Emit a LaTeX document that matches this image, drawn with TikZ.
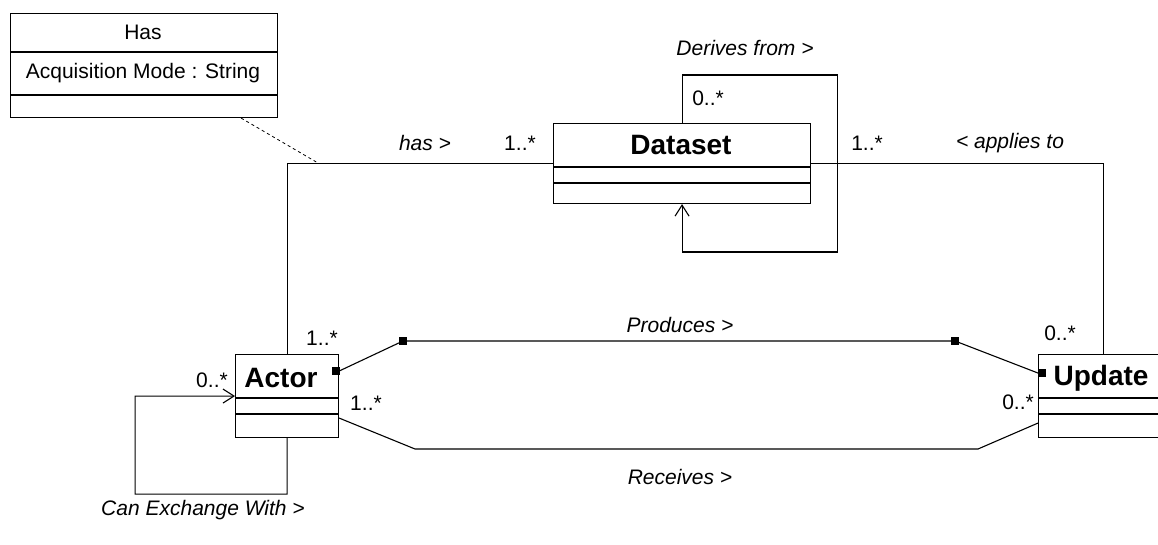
\documentclass[tikz,border=0pt]{standalone}
\usepackage{fontspec}
\setmainfont{Liberation Sans}
\usetikzlibrary{positioning, calc, arrows.meta}

\begin{document}
\begin{tikzpicture}[x=1pt, y=-1pt, line width=1.1pt,
    mult/.style={font=\fontsize{21}{25}\selectfont},
    role/.style={font=\fontsize{21}{25}\selectfont\itshape},
    cname/.style={font=\fontsize{28}{32}\selectfont\bfseries},
    classbox/.style={draw, anchor=north west, inner sep=0pt},
    endsq/.style={fill=black, minimum size=8pt, inner sep=0pt},
    navarrow/.style={-{Straight Barb[length=11pt, width=14pt]}}]
    \useasboundingbox (0,0) rectangle (1158,545);

    % Association class Has
    \node[classbox, minimum width=267pt, minimum height=104pt] (assoc) at (10,13) {};
    \draw ($(assoc.north west)+(0,39)$) -- ($(assoc.north east)+(0,39)$);
    \draw ($(assoc.north west)+(0,82)$) -- ($(assoc.north east)+(0,82)$);
    \node[mult] (assocname) at (143,32) {Has};
    \node[mult] (assocattr) at (143,73) {Acquisition Mode : String};

    % Dataset
    \node[classbox, minimum width=257pt, minimum height=80pt] (dataset) at (553,123) {};
    \draw ($(dataset.north west)+(0,44)$) -- ($(dataset.north east)+(0,44)$);
    \draw ($(dataset.north west)+(0,60)$) -- ($(dataset.north east)+(0,60)$);
    \node[cname] (datasetname) at (681,145) {Dataset};

    % Actor
    \node[classbox, minimum width=103pt, minimum height=83pt] (actor) at (235,354) {};
    \draw ($(actor.north west)+(0,44)$) -- ($(actor.north east)+(0,44)$);
    \draw ($(actor.north west)+(0,60)$) -- ($(actor.north east)+(0,60)$);
    \node[cname] (actorname) at (281,378) {Actor};

    % Update (cut at the right edge)
    \node[classbox, minimum width=130pt, minimum height=83pt] (update) at (1038,354) {};
    \draw ($(update.north west)+(0,44)$) -- ($(update.north east)+(0,44)$);
    \draw ($(update.north west)+(0,60)$) -- ($(update.north east)+(0,60)$);
    \node[cname] (updatename) at (1101,378) {Update};

    % has >
    \draw (actor.north) |- (dataset.west);
    \coordinate (haslink) at (318,163);
    \draw[dashed, line width=0.8pt] ([xshift=-37pt]assoc.south east) -- (haslink);
    \node[role] (haslbl) at (425,143) {has >};
    \node[mult] (hasmult) at (520,143) {1..*};
    \node[mult] (hasmultb) at (322,338) {1..*};

    % < applies to
    \draw (dataset.east) -| (update.north);
    \node[mult] (appmult) at (867,143) {1..*};
    \node[role] (applbl) at (1010,143) {< applies to};
    \node[mult] (appmultb) at (1060,333) {0..*};

    % Derives from > (self loop)
    \draw[navarrow] (dataset.north) -- ++(0,-48) -| ++(155,177) -| (dataset.south);
    \node[role] (derivlbl) at (745,48) {Derives from >};
    \node[mult] (derivmult) at (708,98) {0..*};

    % Can Exchange With > (self loop)
    \draw[navarrow] (actor.south) -- ++(0,56) -| ++(-152,-98) -- (actor.west);
    \node[mult] (exchmult) at (212,380) {0..*};
    \node[role] (exchlbl) at (203,510) {Can Exchange With >};

    % Produces >
    \draw ([yshift=25pt]actor.east) -- (403,341) -- (955,341) -- ([yshift=23pt]update.west);
    \node[endsq] (sqa) at ([xshift=-3pt, yshift=25pt]actor.east) {};
    \node[endsq] (sqb) at (403,341) {};
    \node[endsq] (sqc) at (955,341) {};
    \node[endsq] (sqd) at ([xshift=4pt, yshift=23pt]update.west) {};
    \node[role] (prodlbl) at (680,325) {Produces >};

    % Receives >
    \draw ([yshift=-22pt]actor.east) -- (415,449) -- (978,449) -- ([yshift=-27pt]update.west);
    \node[mult] (recmult) at (366,403) {1..*};
    \node[mult] (recmultb) at (1018,402) {0..*};
    \node[role] (reclbl) at (680,477) {Receives >};
\end{tikzpicture}
\end{document}
